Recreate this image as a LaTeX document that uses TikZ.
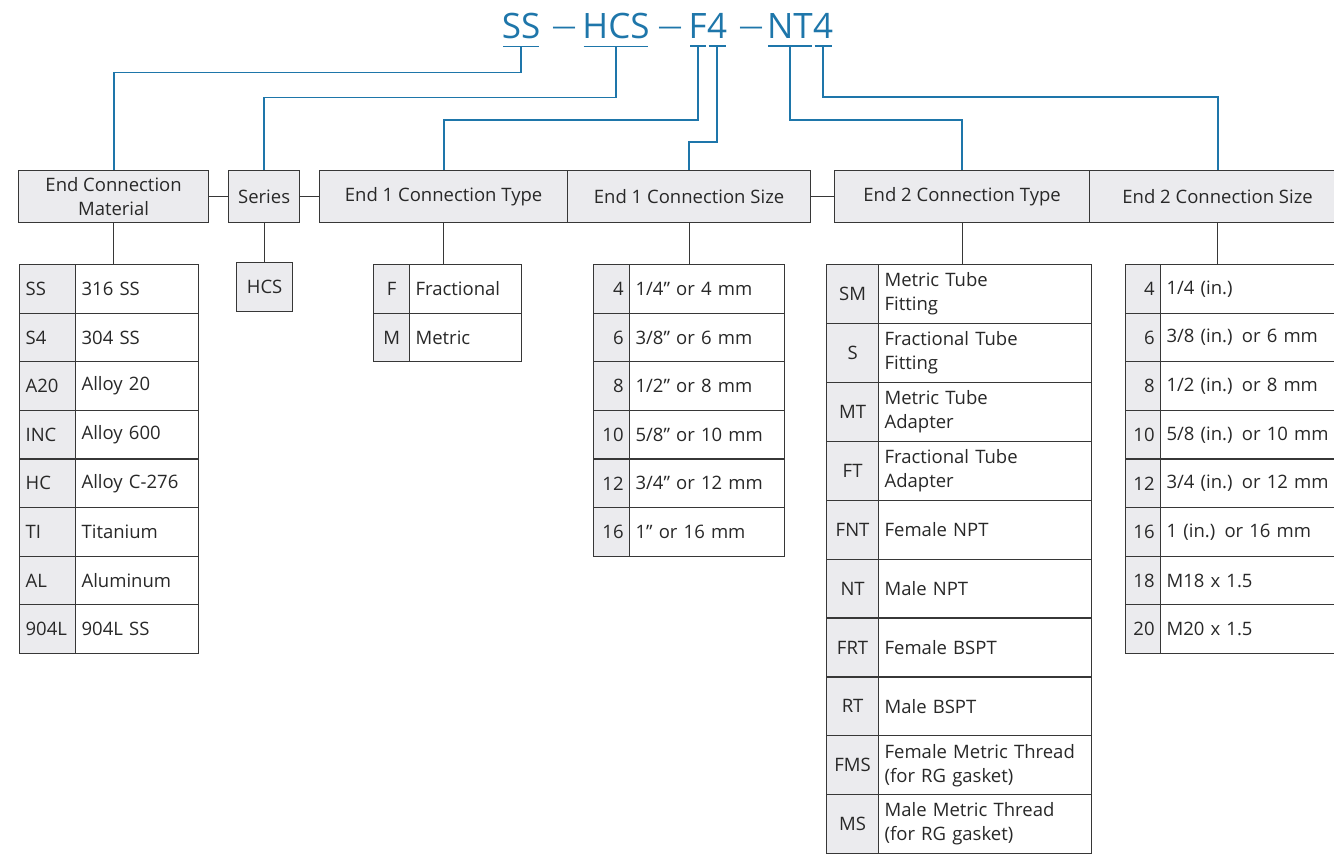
\documentclass[tikz,border=0pt]{standalone}
\usepackage{fontspec}
\setmainfont{Open Sans}
\usepackage{xcolor}
\usetikzlibrary{positioning}
\definecolor{codeblue}{RGB}{30,118,170}
\definecolor{cellgray}{RGB}{235,235,238}
\definecolor{linegray}{RGB}{55,55,55}
\definecolor{txtgray}{RGB}{40,40,40}

\begin{document}
\begin{tikzpicture}[x=1pt,y=-1pt,
  every node/.style={font=\fontsize{18.5}{24}\selectfont,text=txtgray},
  hd/.style={draw=linegray,line width=1.2pt,fill=cellgray,anchor=north west,minimum height=52,inner sep=0,align=center},
  cd/.style={draw=linegray,line width=1.2pt,fill=cellgray,anchor=north west,inner xsep=6,inner ysep=0},
  ds/.style={draw=linegray,line width=1.2pt,fill=white,anchor=north west,inner xsep=6,inner ysep=0,align=left},
  tt/.style={font=\fontsize{35}{40}\selectfont,text=codeblue,inner sep=0,anchor=base},
  dsh/.style={font=\fontsize{24}{26}\selectfont,text=codeblue,inner sep=0},
  ul/.style={draw=codeblue,line width=1.6pt,shorten <=1.5pt,shorten >=1.5pt},
  bl/.style={draw=codeblue,line width=1.9pt},
  ln/.style={draw=linegray,line width=1.2pt}]
 \useasboundingbox (0,0) rectangle (1334,854);
 \node[tt] (t1) at (521,38) {SS};
 \node[dsh] (d1) at (564,31) {—};
 \node[tt] (t2) at (616,38) {HCS};
 \node[dsh] (d2) at (670,31) {—};
 \node[tt,anchor=base east] (t3) at (707,38) {F};
 \node[tt,anchor=base west] (t4) at (707,38) {4};
 \node[dsh] (d3) at (751,31) {—};
 \node[tt,anchor=base east] (t5) at (813,38) {NT};
 \node[tt,anchor=base west] (t6) at (813,38) {4};
 \foreach \n in {t1,t2,t3,t4,t5,t6}
  \draw[ul] ([yshift=-8pt]\n.south west) -- ([yshift=-8pt]\n.south east);
 \node[hd,minimum width=190] (hm) at (18,170) {End Connection\\Material};
 \node[hd,minimum width=71] (hs) at (228,170) {Series};
 \node[hd,minimum width=248] (h1t) at (319,170) {End 1 Connection Type};
 \node[hd,minimum width=243] (h1s) at (567,170) {End 1 Connection Size};
 \node[hd,minimum width=255] (h2t) at (834,170) {End 2 Connection Type};
 \node[hd,minimum width=256] (h2s) at (1089,170) {End 2 Connection Size};
 \node[cd,minimum width=56,minimum height=49,inner xsep=0] (hcs) at (236,262) {HCS};
 \foreach \c/\d [count=\i from 0] in {SS/316 SS,S4/304 SS,A20/Alloy 20,INC/Alloy 600,HC/Alloy C-276,TI/Titanium,AL/Aluminum,904L/904L SS}{
  \node[cd,text width=44,align=left,minimum height=48.6] (m\i) at (19,{264+48.6*\i}) {\c};
  \node[ds,text width=111,minimum height=48.6] (md\i) at (75,{264+48.6*\i}) {\d};}
 \foreach \c/\d [count=\i from 0] in {F/Fractional,M/Metric}{
  \node[cd,text width=24,align=center,minimum height=48.6] (f\i) at (373,{264+48.6*\i}) {\c};
  \node[ds,text width=100,minimum height=48.6] (fd\i) at (409,{264+48.6*\i}) {\d};}
 \foreach \c/\d [count=\i from 0] in {4/{1/4" or 4 mm},6/{3/8" or 6 mm},8/{1/2" or 8 mm},10/{5/8" or 10 mm},12/{3/4" or 12 mm},16/{1" or 16 mm}}{
  \node[cd,text width=24,align=right,minimum height=48.6] (z\i) at (593,{264+48.6*\i}) {\c};
  \node[ds,text width=143,minimum height=48.6] (zd\i) at (629,{264+48.6*\i}) {\d};}
 \foreach \c/\d [count=\i from 0] in {SM/{Metric Tube\\Fitting},S/{Fractional Tube\\Fitting},MT/{Metric Tube\\Adapter},FT/{Fractional Tube\\Adapter},FNT/Female NPT,NT/Male NPT,FRT/Female BSPT,RT/Male BSPT,FMS/{Female Metric Thread\\(for RG gasket)},MS/{Male Metric Thread\\(for RG gasket)}}{
  \node[cd,text width=40,align=center,minimum height=58.9] (p\i) at (826,{264+58.9*\i}) {\c};
  \node[ds,text width=201,minimum height=58.9] (pd\i) at (878,{264+58.9*\i}) {\d};}
 \foreach \c/\d [count=\i from 0] in {4/{1/4 (in.)},6/{3/8 (in.) or 6 mm},8/{1/2 (in.) or 8 mm},10/{5/8 (in.) or 10 mm},12/{3/4 (in.) or 12 mm},16/{1 (in.) or 16 mm},18/M18 x 1.5,20/M20 x 1.5}{
  \node[cd,text width=23,align=right,minimum height=48.6] (q\i) at (1125,{264+48.6*\i}) {\c};
  \node[ds,text width=173,minimum height=48.6] (qd\i) at (1160,{264+48.6*\i}) {\d};}
 \draw[ln] (hm.east) -- (hs.west);
 \draw[ln] (hs.east) -- (h1t.west);
 \draw[ln] (h1s.east) -- (h2t.west);
 \draw[ln] (hm.south) -- (hm.south |- m0.north);
 \draw[ln] (hs.south) -- (hs.south |- hcs.north);
 \draw[ln] (h1t.south) -- (h1t.south |- f0.north);
 \draw[ln] (h1s.south) -- (h1s.south |- z0.north);
 \draw[ln] (h2t.south) -- (h2t.south |- p0.north);
 \draw[ln] (h2s.south) -- (h2s.south |- q0.north);
 \draw[bl] ([yshift=-8pt]t1.south) -- ++(0,26) -| (hm.north);
 \draw[bl] ([yshift=-8pt]t2.south) -- ++(0,51) -| (hs.north);
 \draw[bl] ([yshift=-8pt]t3.south) -- ++(0,74) -| (h1t.north);
 \draw[bl] ([yshift=-8pt]t4.south) -- ++(0,96) -| (h1s.north);
 \draw[bl] ([yshift=-8pt]t5.south) -- ++(0,74) -| (h2t.north);
 \draw[bl] ([yshift=-8pt]t6.south) -- ++(0,51) -| (h2s.north);
\end{tikzpicture}
\end{document}
